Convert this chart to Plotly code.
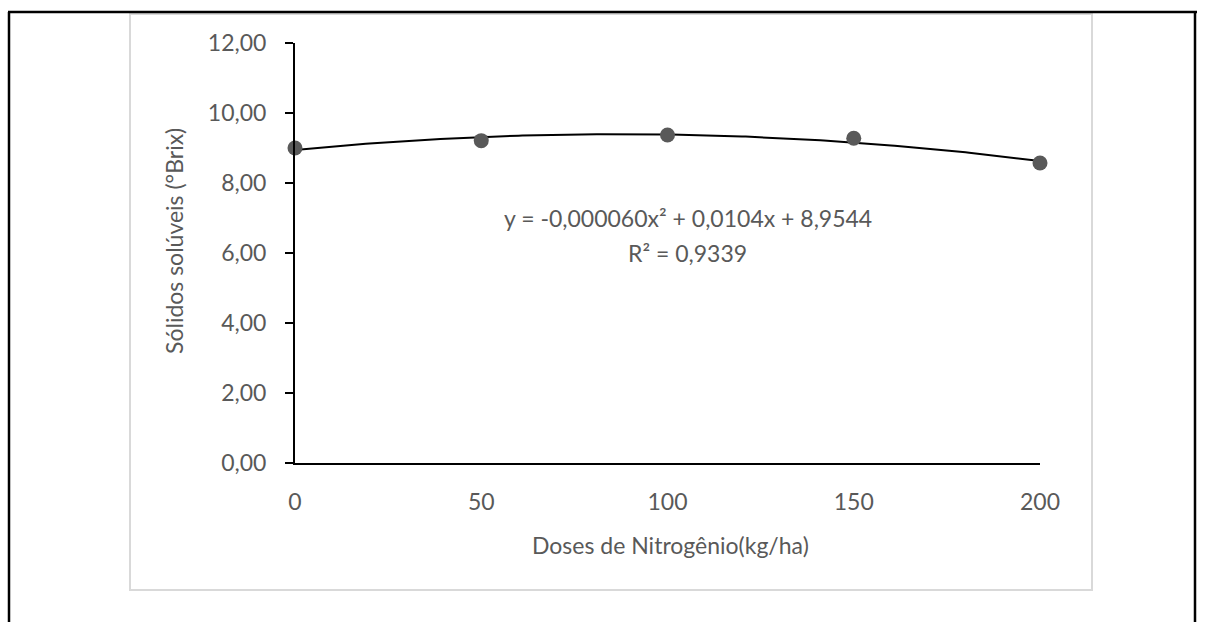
import numpy as np
import plotly.graph_objects as go

# Data
doses = [0, 50, 100, 150, 200]
brix = [9.00, 9.21, 9.37, 9.28, 8.57]
x_ticks = [0, 50, 100, 150, 200]
y_ticks = [0, 2, 4, 6, 8, 10, 12]
equation_text = "y = -0,000060x² + 0,0104x + 8,9544"
r2_text = "R² = 0,9339"
x_title = "Doses de Nitrogênio(kg/ha)"
y_title = "Sólidos solúveis (°Brix)"

# quadratic trendline fitted to the data (as the spreadsheet does)
coef = np.polyfit(doses, brix, 2)
xs = np.linspace(min(doses), max(doses), 201)
ys = np.polyval(coef, xs)

W, H = 1205, 622
L, R, T, B = 295, 1040, 43, 463  # plot area in pixels
FONT = "Lato"
GREY = "#595959"
FS = 23


def px(xp):
    return (xp - L) / (R - L)


def py(yp):
    return (B - yp) / (B - T)


fig = go.Figure()
fig.add_trace(go.Scatter(x=xs, y=ys, mode="lines",
                         line=dict(color="black", width=2),
                         hoverinfo="skip", showlegend=False))
fig.add_trace(go.Scatter(x=doses, y=brix, mode="markers",
                         marker=dict(color=GREY, size=15, line=dict(width=0)),
                         cliponaxis=False, showlegend=False))

shapes = [
    dict(type="rect", xref="paper", yref="paper",
         x0=px(130), x1=px(1092), y0=py(590), y1=py(14),
         line=dict(color="#d9d9d9", width=2), layer="below"),
    dict(type="line", xref="paper", yref="paper",
         x0=px(8), x1=px(1197), y0=py(12), y1=py(12),
         line=dict(color="black", width=2.5)),
    dict(type="line", xref="paper", yref="paper",
         x0=px(9), x1=px(9), y0=py(12), y1=py(630),
         line=dict(color="black", width=2.5)),
    dict(type="line", xref="paper", yref="paper",
         x0=px(1195), x1=px(1195), y0=py(12), y1=py(630),
         line=dict(color="black", width=2.5)),
]

tf = dict(family=FONT, size=FS, color=GREY)
annotations = [
    dict(text=equation_text, x=105.5, y=7.0, xref="x", yref="y",
         xanchor="center", yanchor="middle", showarrow=False, font=tf),
    dict(text=r2_text, x=105.5, y=6.0, xref="x", yref="y",
         xanchor="center", yanchor="middle", showarrow=False, font=tf),
    dict(text=x_title, x=px(670), y=py(545), xref="paper", yref="paper",
         xanchor="center", yanchor="middle", showarrow=False, font=tf),
    dict(text=y_title, x=px(174), y=py(241), xref="paper", yref="paper",
         xanchor="center", yanchor="middle", showarrow=False,
         textangle=-90, font=tf),
]

fig.update_layout(
    width=W, height=H,
    margin=dict(l=L, r=W - R, t=T, b=H - B, pad=0),
    paper_bgcolor="white", plot_bgcolor="white",
    separators=",.",
    shapes=shapes, annotations=annotations,
    font=tf,
    xaxis=dict(range=[0, 200], tickvals=x_ticks, showline=True,
               linecolor="black", linewidth=2, showgrid=False,
               zeroline=False, ticks="", ticklabelstandoff=17,
               tickfont=tf),
    yaxis=dict(range=[0, 12], tickvals=y_ticks, tickformat=".2f",
               showline=True, linecolor="black", linewidth=2,
               showgrid=False, zeroline=False, ticks="outside",
               ticklen=8, tickwidth=2, tickcolor="black",
               ticklabelstandoff=14, tickfont=tf),
)

fig.write_html("out.html")
